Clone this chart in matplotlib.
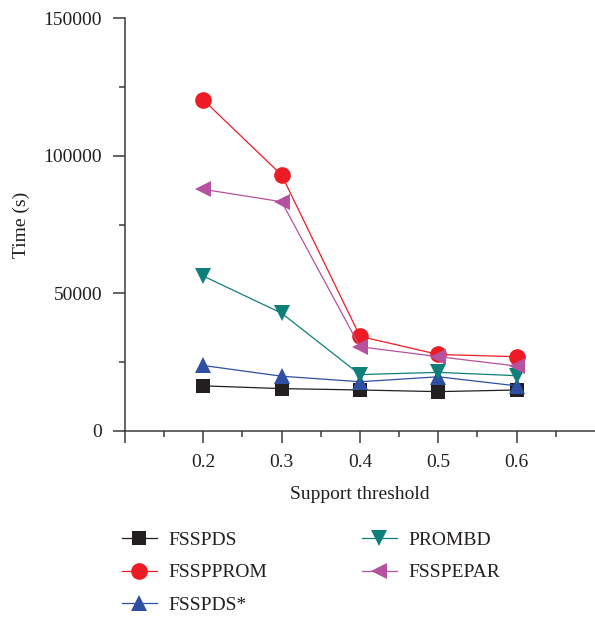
import numpy as np
import matplotlib.pyplot as plt
from matplotlib.ticker import MultipleLocator

plt.rcParams['font.family'] = ['Liberation Serif', 'DejaVu Serif']
plt.rcParams['font.size'] = 14
plt.rcParams['text.color'] = '#231f20'
plt.rcParams['axes.labelcolor'] = '#231f20'
plt.rcParams['xtick.labelcolor'] = '#231f20'
plt.rcParams['ytick.labelcolor'] = '#231f20'

support = [0.2, 0.3, 0.4, 0.5, 0.6]

fsspds = [16400, 15400, 14900, 14300, 14900]
fssprom = [120300, 93000, 34400, 27800, 27000]
fsspds_star = [23800, 19900, 17900, 19700, 16400]
prombd = [56300, 42800, 20500, 21300, 20100]
fsspepar = [87800, 83300, 30600, 27000, 23600]

labels = ['FSSPDS', 'FSSPPROM', 'FSSPDS*', 'PROMBD', 'FSSPEPAR']
colors = ['#231f20', '#ed1c24', '#2e4fa3', '#0e8079', '#b5519f']
markers = ['s', 'o', '^', 'v', '<']
msizes = [10, 12, 12, 12, 12]

fig = plt.figure(figsize=(5.95, 6.18), dpi=100)
ax = fig.add_axes([0.210, 0.3026, 0.790, 0.668])

series = [fsspds, fssprom, fsspds_star, prombd, fsspepar]
for ys, lab, c, m, ms in zip(series, labels, colors, markers, msizes):
    ax.plot(support, ys, color=c, marker=m, markersize=ms, linewidth=0.9,
            label=lab, markeredgewidth=0)

ax.set_xlim(0.1, 0.7)
ax.set_ylim(0, 150000)
ax.set_xticks([0.1, 0.2, 0.3, 0.4, 0.5, 0.6])
ax.set_xticklabels(['', '0.2', '0.3', '0.4', '0.5', '0.6'])
ax.set_xticks([0.15, 0.25, 0.35, 0.45, 0.55, 0.65], minor=True)
ax.yaxis.set_major_locator(MultipleLocator(50000))
ax.yaxis.set_minor_locator(MultipleLocator(25000))

for s in ['top', 'right']:
    ax.spines[s].set_visible(False)
for s in ['left', 'bottom']:
    ax.spines[s].set_linewidth(1.1)
    ax.spines[s].set_color('#3a3a3a')
ax.tick_params(which='major', length=8.5, width=1.1, color='#3a3a3a', labelsize=14, pad=8)
ax.tick_params(which='minor', length=4.5, width=1.1, color='#3a3a3a')

ax.set_xlabel('Support threshold', fontsize=14, labelpad=11)
ax.set_ylabel('Time (s)', fontsize=14, labelpad=10)

fig.legend(loc='upper left', bbox_to_anchor=(0.205, 0.140), ncol=2, frameon=False,
           fontsize=14, handlelength=1.8, handletextpad=0.6, columnspacing=4.85,
           labelspacing=0.76, borderpad=0, borderaxespad=0)

fig.savefig('out.png', dpi=100)
